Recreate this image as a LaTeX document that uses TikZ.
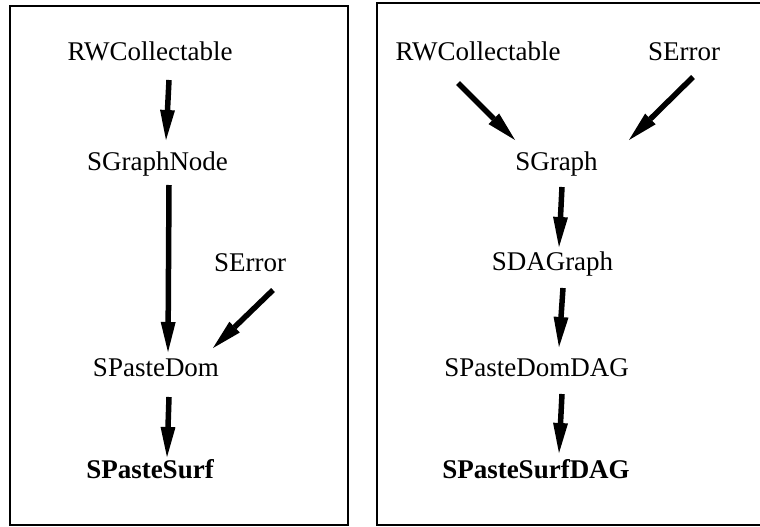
\documentclass[tikz,border=0pt]{standalone}
\usepackage{fontspec}
\setmainfont{Liberation Serif}
\usetikzlibrary{arrows.meta}
\begin{document}
\begin{tikzpicture}[x=1pt,y=-1pt,
  lbl/.style={inner sep=0pt, anchor=base, font=\fontsize{27}{32}\selectfont},
  blbl/.style={lbl, font=\fontsize{27}{32}\selectfont\bfseries},
  arr/.style={line width=5.5pt, -{Triangle[length=30pt,width=15pt,line width=0pt]}},
  panel/.style={draw, line width=2pt}]
\useasboundingbox (0,0) rectangle (760,527);
% panels
\draw[panel] (10,6) rectangle (347.5,525);
\draw[panel] (377,3) rectangle (770,525);
% left panel nodes
\node[lbl]  (lrw) at (150,61)   {RWCollectable};
\node[lbl]  (lgn) at (157.5,170){SGraphNode};
\node[lbl]  (lse) at (250,271)  {SError};
\node[lbl]  (lpd) at (156,376)  {SPasteDom};
\node[blbl] (lps) at (150,478)  {SPasteSurf};
% right panel nodes
\node[lbl]  (rrw)  at (478,61)   {RWCollectable};
\node[lbl]  (rse)  at (684,61)   {SError};
\node[lbl]  (rsg)  at (556.5,170){SGraph};
\node[lbl]  (rdag) at (552.5,270){SDAGraph};
\node[lbl]  (rpdd) at (536.5,376){SPasteDomDAG};
\node[blbl] (rpsd) at (536,478)  {SPasteSurfDAG};
% left arrows
\draw[arr] ([shift={(19,19)}]lrw.base) -- ([shift={(8.5,-30)}]lgn.base);
\draw[arr] ([shift={(11.5,15)}]lgn.base) -- ([shift={(12,-24)}]lpd.base);
\draw[arr] ([shift={(23,19)}]lse.base) -- ([shift={(57,-28)}]lpd.base);
\draw[arr] ([shift={(13,21)}]lpd.base) -- ([shift={(17,-21)}]lps.base);
% right arrows
\draw[arr] ([shift={(-20,22)}]rrw.base) -- ([shift={(-41.5,-30)}]rsg.base);
\draw[arr] ([shift={(9,16)}]rse.base) -- ([shift={(72.5,-30)}]rsg.base);
\draw[arr] ([shift={(5.5,17)}]rsg.base) -- ([shift={(6.5,-23)}]rdag.base);
\draw[arr] ([shift={(10.5,18)}]rdag.base) -- ([shift={(22.5,-29)}]rpdd.base);
\draw[arr] ([shift={(25.5,18)}]rpdd.base) -- ([shift={(23,-25)}]rpsd.base);
\end{tikzpicture}
\end{document}
